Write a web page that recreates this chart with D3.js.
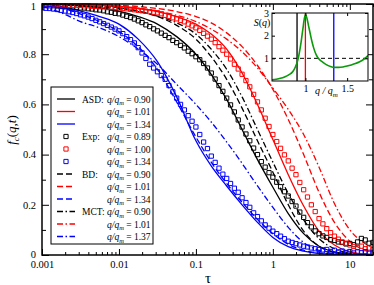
<!DOCTYPE html>
<html>
<head>
<meta charset="utf-8">
<title>f_c(q,t) comparison</title>
<script src="https://cdnjs.cloudflare.com/ajax/libs/d3/7.8.5/d3.min.js"></script>
<style>
body{margin:0;background:#fff;}
svg{display:block;font-family:"Liberation Serif","Times New Roman",serif;}
</style>
</head>
<body>
<svg width="374" height="285"></svg>
<script>
// time grid of the model curves
var tauModel = [0.001, 0.00178, 0.00316, 0.00562, 0.01, 0.0178, 0.0316, 0.0562, 0.1, 0.158, 0.251,
                0.398, 0.631, 1, 1.585, 2.512, 3.981, 6.31, 10, 14.13, 20];
var asd090 = [1.000, 0.998, 0.993, 0.985, 0.972, 0.950, 0.920, 0.870, 0.800, 0.720, 0.620, 0.500, 0.380, 0.270, 0.165, 0.085, 0.035, 0.012, 0.004, 0.002, 0.001];
var asd101 = [1.000, 0.999, 0.997, 0.994, 0.990, 0.982, 0.970, 0.950, 0.920, 0.880, 0.820, 0.725, 0.600, 0.460, 0.320, 0.195, 0.095, 0.040, 0.012, 0.005, 0.002];
var asd134 = [1.000, 0.990, 0.972, 0.950, 0.920, 0.860, 0.770, 0.630, 0.455, 0.355, 0.275, 0.200, 0.130, 0.070, 0.033, 0.015, 0.006, 0.003, 0.001, 0.000, 0.000];
var bd090  = [1.000, 0.999, 0.997, 0.992, 0.985, 0.972, 0.950, 0.915, 0.860, 0.790, 0.700, 0.585, 0.455, 0.330, 0.200, 0.095, 0.035, 0.010, 0.003, 0.001, 0.000];
var bd101  = [1.000, 1.000, 0.999, 0.997, 0.995, 0.990, 0.982, 0.970, 0.950, 0.925, 0.885, 0.830, 0.755, 0.660, 0.540, 0.400, 0.250, 0.130, 0.055, 0.025, 0.012];
var bd134  = [1.000, 0.985, 0.960, 0.930, 0.890, 0.830, 0.740, 0.610, 0.470, 0.370, 0.285, 0.210, 0.142, 0.085, 0.043, 0.019, 0.008, 0.003, 0.001, 0.000, 0.000];
var mct090 = [1.000, 0.996, 0.992, 0.988, 0.982, 0.970, 0.952, 0.925, 0.880, 0.820, 0.740, 0.630, 0.500, 0.370, 0.245, 0.140, 0.065, 0.025, 0.008, 0.003, 0.001];
var mct101 = [1.000, 0.998, 0.996, 0.993, 0.989, 0.982, 0.971, 0.955, 0.930, 0.900, 0.860, 0.810, 0.745, 0.665, 0.580, 0.480, 0.350, 0.205, 0.100, 0.055, 0.030];
var mct137 = [0.990, 0.965, 0.930, 0.905, 0.870, 0.820, 0.760, 0.680, 0.600, 0.530, 0.450, 0.365, 0.275, 0.190, 0.110, 0.050, 0.018, 0.006, 0.002, 0.001, 0.000];

// experimental points
var tauExp = [0.001,0.001122,0.001259,0.001413,0.001585,0.001778,0.001995,0.002239,0.002512,0.002818,
  0.003162,0.003548,0.003981,0.004467,0.005012,0.005623,0.00631,0.007079,0.007943,0.008913,
  0.01,0.01122,0.01259,0.01413,0.01585,0.01778,0.01995,0.02239,0.02512,0.02818,
  0.03162,0.03548,0.03981,0.04467,0.05012,0.05623,0.0631,0.07079,0.07943,0.08913,
  0.1,0.1122,0.1259,0.1413,0.1585,0.1778,0.1995,0.2239,0.2512,0.2818,
  0.3162,0.3548,0.3981,0.4467,0.5012,0.5623,0.631,0.7079,0.7943,0.8913,
  1,1.122,1.259,1.413,1.585,1.778,1.995,2.239,2.512,2.818,
  3.162,3.548,3.981,4.467,5.012,5.623,6.31,7.079,7.943,8.913,
  10,11.22,12.59,14.13,15.85,17.78,19.95];
var exp089 = [0.995,0.996,0.993,0.993,0.992,0.990,0.991,0.988,0.988,0.986,
  0.984,0.984,0.981,0.980,0.977,0.976,0.973,0.969,0.967,0.963,
  0.961,0.956,0.951,0.946,0.940,0.933,0.926,0.917,0.910,0.901,
  0.893,0.884,0.875,0.866,0.855,0.846,0.835,0.825,0.812,0.802,
  0.790,0.778,0.763,0.745,0.725,0.701,0.675,0.652,0.625,0.598,
  0.570,0.538,0.510,0.482,0.455,0.426,0.400,0.372,0.350,0.328,
  0.310,0.290,0.272,0.252,0.235,0.213,0.195,0.171,0.150,0.129,
  0.112,0.096,0.085,0.076,0.070,0.061,0.058,0.052,0.050,0.044,
  0.046,0.041,0.052,0.066,0.060,0.047,0.050];
var exp100 = [0.998,0.999,0.997,0.998,0.997,0.996,0.997,0.995,0.995,0.994,
  0.995,0.993,0.993,0.991,0.991,0.989,0.989,0.987,0.987,0.985,
  0.985,0.982,0.981,0.979,0.977,0.975,0.973,0.971,0.969,0.967,
  0.965,0.961,0.955,0.951,0.945,0.941,0.935,0.929,0.920,0.913,
  0.905,0.895,0.883,0.872,0.860,0.846,0.830,0.816,0.800,0.781,
  0.760,0.741,0.720,0.695,0.670,0.640,0.610,0.578,0.545,0.512,
  0.480,0.452,0.425,0.399,0.375,0.346,0.320,0.289,0.260,0.231,
  0.200,0.173,0.145,0.124,0.105,0.089,0.075,0.063,0.052,0.047,
  0.040,0.034,0.030,0.035,0.025,0.028,0.022];
var exp134 = [0.985,0.983,0.982,0.980,0.978,0.975,0.972,0.969,0.966,0.962,
  0.957,0.953,0.948,0.942,0.935,0.929,0.922,0.915,0.908,0.900,
  0.893,0.882,0.870,0.858,0.845,0.826,0.805,0.783,0.760,0.745,
  0.730,0.715,0.700,0.675,0.650,0.625,0.600,0.578,0.555,0.533,
  0.510,0.480,0.450,0.424,0.394,0.369,0.346,0.322,0.305,0.285,
  0.266,0.250,0.228,0.209,0.190,0.168,0.153,0.136,0.120,0.107,
  0.095,0.085,0.075,0.065,0.055,0.050,0.045,0.040,0.035,0.032,
  0.028,0.025,0.022,0.020,0.022,0.014,0.019,0.012,0.016,0.010,
  0.014,0.008,0.012,0.009,0.013,0.007,0.010];

// inset: static structure factor
var sqQ = [0.60, 0.65, 0.70, 0.75, 0.80, 0.85, 0.88, 0.91, 0.93, 0.95, 0.97, 0.99, 1.00, 1.02, 1.04, 1.06,
           1.08, 1.10, 1.13, 1.16, 1.20, 1.25, 1.30, 1.35, 1.40, 1.45, 1.50, 1.55, 1.60, 1.65, 1.70, 1.75];
var sqS = [0.05, 0.08, 0.12, 0.18, 0.27, 0.42, 0.62, 0.93, 1.30, 1.75, 2.30, 2.80, 2.93, 2.75, 2.40, 2.05,
           1.72, 1.45, 1.15, 0.98, 0.85, 0.72, 0.64, 0.60, 0.60, 0.62, 0.66, 0.71, 0.77, 0.85, 0.96, 1.12];
var insetQ = [0.90, 1.00, 1.34];

var xTickLabels = ["0.001", "0.01", "0.1", "1", "10"];
var yTickLabels = ["0", "0.2", "0.4", "0.6", "0.8", "1"];
var legendGroups = ["ASD:", "", "", "Exp:", "", "", "BD:", "", "", "MCT:", "", ""];
var legendValues = ["0.90", "1.01", "1.34", "0.89", "1.00", "1.34", "0.90", "1.01", "1.34", "0.90", "1.01", "1.37"];

var BLACK = "#000", RED = "#ff0000", BLUE = "#0000ff", GREEN = "#0a9a0a";
var DASH = "6,3", DASHDOT = "6,2.5,1.5,2.5";

var svg = d3.select("svg");
var x = d3.scaleLog().domain([0.001, 20]).range([42, 373]);
var y = d3.scaleLinear().domain([0, 1]).range([255, 4]);

svg.append("clipPath").attr("id", "plotclip")
  .append("rect").attr("x", 42).attr("y", 3).attr("width", 331).attr("height", 252);

var models = [
  {v: mct090, c: BLACK, d: DASHDOT}, {v: mct101, c: RED, d: DASHDOT}, {v: mct137, c: BLUE, d: DASHDOT},
  {v: bd090, c: BLACK, d: DASH}, {v: bd101, c: RED, d: DASH}, {v: bd134, c: BLUE, d: DASH},
  {v: asd090, c: BLACK, d: null}, {v: asd101, c: RED, d: null}, {v: asd134, c: BLUE, d: null}
];
var line = d3.line()
  .x(function(d, i){ return x(tauModel[i]); })
  .y(function(d){ return y(d); })
  .curve(d3.curveMonotoneX);

var plot = svg.append("g").attr("clip-path", "url(#plotclip)");
plot.selectAll("path.model")
  .data(models)
  .enter()
  .append("path")
  .attr("class", "model")
  .attr("d", function(d){ return line(d.v); })
  .attr("fill", "none")
  .attr("stroke", function(d){ return d.c; })
  .attr("stroke-width", 1.3)
  .attr("stroke-dasharray", function(d){ return d.d; });

var exps = [{v: exp089, c: BLACK}, {v: exp100, c: RED}, {v: exp134, c: BLUE}];
var square = d3.symbol().type(d3.symbolSquare).size(18);
exps.forEach(function(s){
  plot.selectAll(null)
    .data(s.v)
    .enter()
    .append("path")
    .attr("d", square)
    .attr("transform", function(d, i){ return "translate(" + x(tauExp[i]) + "," + y(d) + ")"; })
    .attr("fill", "none")
    .attr("stroke", s.c)
    .attr("stroke-width", 1);
});

// axes, ticks pointing inwards on all four sides
var xMajor = [0.001, 0.01, 0.1, 1, 10];
var xMinor = x.ticks().filter(function(t){ return xMajor.indexOf(t) < 0; });
var yMajor = [0, 0.2, 0.4, 0.6, 0.8, 1];
var yMinor = [0.1, 0.3, 0.5, 0.7, 0.9];

function addAxis(axis, tr){
  var g = svg.append("g").attr("transform", tr).call(axis);
  g.select(".domain").remove();
  g.selectAll("line").attr("stroke", BLACK).attr("stroke-width", 1);
  g.selectAll("text").attr("font-family", "Liberation Serif, serif").attr("font-size", 10.5).attr("fill", BLACK);
  return g;
}
addAxis(d3.axisBottom(x).tickValues(xMinor).tickSize(-3).tickFormat(""), "translate(0,255)");
addAxis(d3.axisBottom(x).tickValues(xMajor).tickSize(-6).tickPadding(6)
  .tickFormat(function(d, i){ return xTickLabels[i]; }), "translate(0,255)");
addAxis(d3.axisTop(x).tickValues(xMinor).tickSize(-3).tickFormat(""), "translate(0,4)");
addAxis(d3.axisTop(x).tickValues(xMajor).tickSize(-6).tickFormat(""), "translate(0,4)");
addAxis(d3.axisLeft(y).tickValues(yMinor).tickSize(-4).tickFormat(""), "translate(42,0)");
var yAx = addAxis(d3.axisLeft(y).tickValues(yMajor).tickSize(-7).tickPadding(6)
  .tickFormat(function(d, i){ return yTickLabels[i]; }), "translate(42,0)");
yAx.selectAll("text").filter(function(d){ return d == 1; }).attr("dy", "0.55em");
yAx.selectAll("text").filter(function(d){ return d == 0; }).attr("dy", "0.2em");
addAxis(d3.axisRight(y).tickValues(yMinor).tickSize(-4).tickFormat(""), "translate(373,0)");
addAxis(d3.axisRight(y).tickValues(yMajor).tickSize(-7).tickFormat(""), "translate(373,0)");

svg.append("rect")
  .attr("x", 42).attr("y", 4).attr("width", 331).attr("height", 251)
  .attr("fill", "none").attr("stroke", BLACK).attr("stroke-width", 1.5);

// axis titles
svg.append("text")
  .attr("x", 208).attr("y", 283)
  .attr("text-anchor", "middle").attr("font-size", 15)
  .text("τ");
var ylab = svg.append("text")
  .attr("transform", "translate(16,130) rotate(-90)")
  .attr("text-anchor", "middle").attr("font-size", 13);
ylab.append("tspan").attr("font-style", "italic").text("f");
ylab.append("tspan").attr("font-style", "italic").attr("font-size", 9).attr("dy", 3).text("c");
ylab.append("tspan").attr("dy", -3).text("(");
ylab.append("tspan").attr("font-style", "italic").text("q,t");
ylab.append("tspan").text(")");

// legend
var legendRows = [
  {c: BLACK, t: "line", d: null}, {c: RED, t: "line", d: null}, {c: BLUE, t: "line", d: null},
  {c: BLACK, t: "square"}, {c: RED, t: "square"}, {c: BLUE, t: "square"},
  {c: BLACK, t: "line", d: DASH}, {c: RED, t: "line", d: DASH}, {c: BLUE, t: "line", d: DASH},
  {c: BLACK, t: "line", d: DASHDOT}, {c: RED, t: "line", d: DASHDOT}, {c: BLUE, t: "line", d: DASHDOT}
];
var ly = d3.scaleLinear().domain([0, 11]).range([99, 236.5]);
svg.append("rect")
  .attr("x", 51).attr("y", 87).attr("width", 102).attr("height", 157)
  .attr("fill", "#fff").attr("stroke", BLACK).attr("stroke-width", 1);
var lg = svg.selectAll("g.leg")
  .data(legendRows)
  .enter()
  .append("g")
  .attr("class", "leg")
  .attr("transform", function(d, i){ return "translate(0," + ly(i) + ")"; });
lg.filter(function(d){ return d.t == "line"; })
  .append("line")
  .attr("x1", 57).attr("x2", 75)
  .attr("stroke", function(d){ return d.c; })
  .attr("stroke-width", 1.3)
  .attr("stroke-dasharray", function(d){ return d.d; });
lg.filter(function(d){ return d.t == "square"; })
  .append("path")
  .attr("d", square)
  .attr("transform", "translate(66,0)")
  .attr("fill", "none")
  .attr("stroke", function(d){ return d.c; });
lg.append("text")
  .attr("x", 82).attr("y", 3.5).attr("font-size", 9.5)
  .text(function(d, i){ return legendGroups[i]; });
var lt = lg.append("text").attr("x", 107).attr("y", 3.5).attr("font-size", 9.5);
lt.append("tspan").attr("font-style", "italic").text("q/q");
lt.append("tspan").attr("font-style", "italic").attr("font-size", 6.5).attr("dy", 2.5).text("m");
lt.append("tspan").attr("dy", -2.5).text(function(d, i){ return " = " + legendValues[i]; });

// inset with S(q)
var xi = d3.scaleLinear().domain([0.6, 1.75]).range([272, 368]);
var yi = d3.scaleLinear().domain([0, 3]).range([81, 13]);
svg.append("rect")
  .attr("x", 272).attr("y", 13).attr("width", 96).attr("height", 68)
  .attr("fill", "#fff");
svg.append("clipPath").attr("id", "insetclip")
  .append("rect").attr("x", 272).attr("y", 13).attr("width", 96).attr("height", 68);
var inset = svg.append("g").attr("clip-path", "url(#insetclip)");
inset.append("line")
  .attr("x1", xi(0.6)).attr("x2", xi(1.75)).attr("y1", yi(1)).attr("y2", yi(1))
  .attr("stroke", BLACK).attr("stroke-width", 1).attr("stroke-dasharray", "4,3");
inset.selectAll("line.q")
  .data(insetQ)
  .enter()
  .append("line")
  .attr("class", "q")
  .attr("x1", function(d){ return xi(d); }).attr("x2", function(d){ return xi(d); })
  .attr("y1", yi(0)).attr("y2", yi(3))
  .attr("stroke", function(d, i){ return [BLACK, RED, BLUE][i]; })
  .attr("stroke-width", 1.3);
inset.append("path")
  .attr("d", d3.line().x(function(d, i){ return xi(sqQ[i]); }).y(function(d){ return yi(d); })
    .curve(d3.curveMonotoneX)(sqS))
  .attr("fill", "none").attr("stroke", GREEN).attr("stroke-width", 1.6);

function addInsetAxis(axis, tr, fs){
  var g = svg.append("g").attr("transform", tr).call(axis);
  g.select(".domain").remove();
  g.selectAll("line").attr("stroke", BLACK);
  g.selectAll("text").attr("font-family", "Liberation Serif, serif").attr("font-size", fs).attr("fill", BLACK);
}
addInsetAxis(d3.axisBottom(xi).tickValues([1, 1.5]).tickSize(-3).tickPadding(4)
  .tickFormat(function(d){ return d == 1 ? "1" : "1.5"; }), "translate(0,81)", 10);
addInsetAxis(d3.axisTop(xi).tickValues([1, 1.5]).tickSize(-3).tickFormat(""), "translate(0,13)", 10);
addInsetAxis(d3.axisLeft(yi).tickValues([1, 2, 3]).tickSize(-3).tickPadding(3)
  .tickFormat(d3.format("d")), "translate(272,0)", 10);
addInsetAxis(d3.axisRight(yi).tickValues([1, 2, 3]).tickSize(-3).tickFormat(""), "translate(368,0)", 10);
svg.append("rect")
  .attr("x", 272).attr("y", 13).attr("width", 96).attr("height", 68)
  .attr("fill", "none").attr("stroke", BLACK).attr("stroke-width", 1);

var sl = svg.append("text").attr("x", 262).attr("y", 26).attr("text-anchor", "middle").attr("font-size", 10);
sl.append("tspan").attr("font-style", "italic").text("S");
sl.append("tspan").text("(");
sl.append("tspan").attr("font-style", "italic").text("q");
sl.append("tspan").text(")");
var ql = svg.append("text").attr("x", 315).attr("y", 94).attr("font-size", 10).attr("font-style", "italic");
ql.append("tspan").text("q / q");
ql.append("tspan").attr("font-size", 7).attr("dy", 2.5).text("m");
</script>
</body>
</html>
